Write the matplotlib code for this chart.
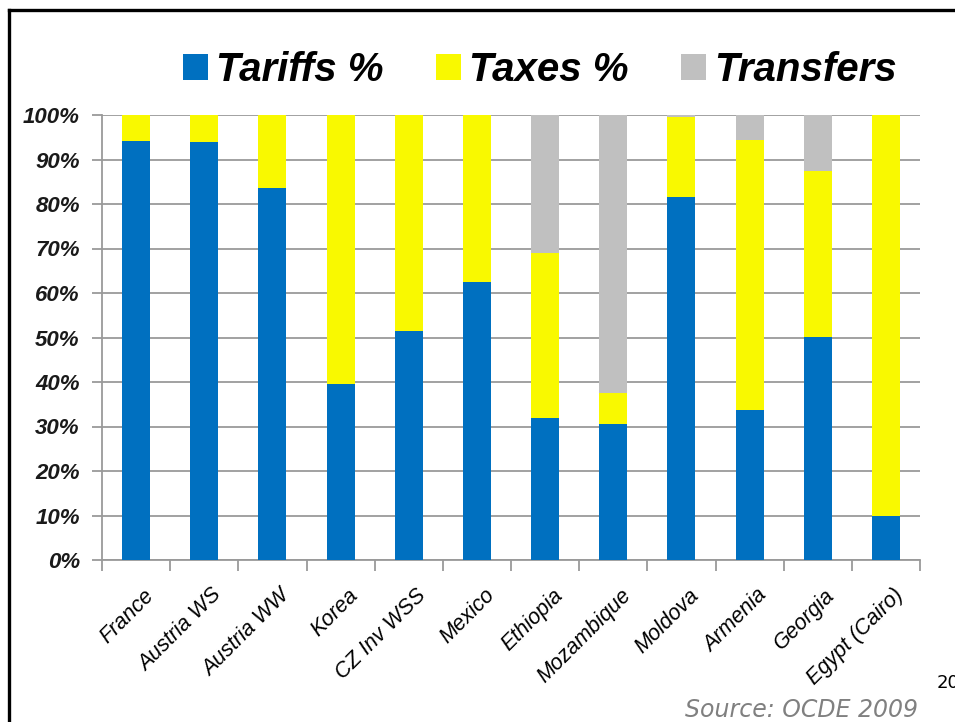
import matplotlib.pyplot as plt
import matplotlib.transforms as mtransforms
from matplotlib.patches import Patch
from matplotlib.lines import Line2D
from matplotlib.ticker import FuncFormatter, MultipleLocator

# data (shares of total, in %)
countries = ["France", "Austria WS", "Austria WW", "Korea", "CZ Inv WSS", "Mexico",
             "Ethiopia", "Mozambique", "Moldova", "Armenia", "Georgia", "Egypt (Cairo)"]
tariffs = [94.2, 93.9, 83.7, 39.6, 51.5, 62.5, 32.0, 30.6, 81.5, 33.6, 50.2, 10.0]
taxes = [5.8, 6.1, 16.3, 60.4, 48.5, 37.5, 36.9, 6.9, 18.0, 60.8, 37.3, 90.0]
transfers = [0.0, 0.0, 0.0, 0.0, 0.0, 0.0, 31.1, 62.5, 0.5, 5.6, 12.5, 0.0]

series_names = ["Tariffs %", "Taxes %", "Transfers"]
colors = ["#0070C0", "#F9F900", "#C0C0C0"]

W, H = 955, 722
fig = plt.figure(figsize=(W / 100, H / 100), dpi=100)
ax = fig.add_axes([102 / W, 1 - 560 / H, (920 - 102) / W, (560 - 115) / H])

x = list(range(len(countries)))
bottom2 = [a + b for a, b in zip(tariffs, taxes)]
bw = 0.41
ax.bar(x, tariffs, width=bw, color=colors[0], zorder=3)
ax.bar(x, taxes, width=bw, bottom=tariffs, color=colors[1], zorder=3)
ax.bar(x, transfers, width=bw, bottom=bottom2, color=colors[2], zorder=3)

ax.set_xlim(-0.5, len(countries) - 0.5)
ax.set_ylim(0, 100)
ax.yaxis.set_major_locator(MultipleLocator(10))
ax.yaxis.set_major_formatter(FuncFormatter(lambda v, p: f"{v:.0f}%"))
ax.grid(axis="y", color="#9a9a9a", linewidth=1.3, zorder=0)
ax.set_axisbelow(True)

for s in ["top", "right"]:
    ax.spines[s].set_visible(False)
for s in ["left", "bottom"]:
    ax.spines[s].set_color("#9a9a9a")
    ax.spines[s].set_linewidth(1.3)

ax.tick_params(axis="y", length=7, color="#9a9a9a", width=1.3, pad=9)
for lab in ax.get_yticklabels():
    lab.set_fontsize(16)
    lab.set_fontweight("bold")
    lab.set_fontstyle("italic")
    lab.set_color("#1a1a1a")
    lab.set_family(["Liberation Sans", "DejaVu Sans"])

# ticks between categories, labels under the bars
ax.set_xticks([i - 0.5 for i in range(len(countries) + 1)], minor=True)
ax.tick_params(axis="x", which="minor", length=8, color="#9a9a9a", width=1.3)
ax.set_xticks(x)
ax.tick_params(axis="x", which="major", length=0, pad=18)
ax.set_xticklabels(countries, rotation=45, ha="right", va="top", rotation_mode="anchor",
                   fontsize=15.5, fontstyle="italic", family=["Liberation Sans", "DejaVu Sans"])
offset = mtransforms.ScaledTranslation(7 / 100, 0, fig.dpi_scale_trans)
for lab in ax.get_xticklabels():
    lab.set_transform(lab.get_transform() + offset)

# legend along the top
handles = [Patch(facecolor=c, edgecolor="none") for c in colors]
fig.legend(handles, series_names, loc="center", bbox_to_anchor=(540 / W, 1 - 70 / H),
           ncol=3, frameon=False, handlelength=0.62, handleheight=0.62, handletextpad=0.2,
           columnspacing=1.3,
           prop={"family": ["Liberation Sans Narrow", "Liberation Sans", "DejaVu Sans"],
                 "weight": "bold", "style": "italic", "size": 29})

# slide frame
fig.add_artist(Line2D([9 / W, 1], [1 - 10 / H, 1 - 10 / H], color="black", linewidth=2.4,
                      transform=fig.transFigure))
fig.add_artist(Line2D([9 / W, 9 / W], [0, 1 - 10 / H], color="black", linewidth=2.4,
                      transform=fig.transFigure))

fig.text(918 / W, 1 - 717 / H, "Source: OCDE 2009", ha="right", va="baseline",
         fontsize=17, fontstyle="italic", color="#808080", family="DejaVu Sans")
fig.text(937 / W, 1 - 688 / H, "20", ha="left", va="baseline", fontsize=13, color="black",
         family="DejaVu Sans")

fig.savefig("out.png", dpi=100)
